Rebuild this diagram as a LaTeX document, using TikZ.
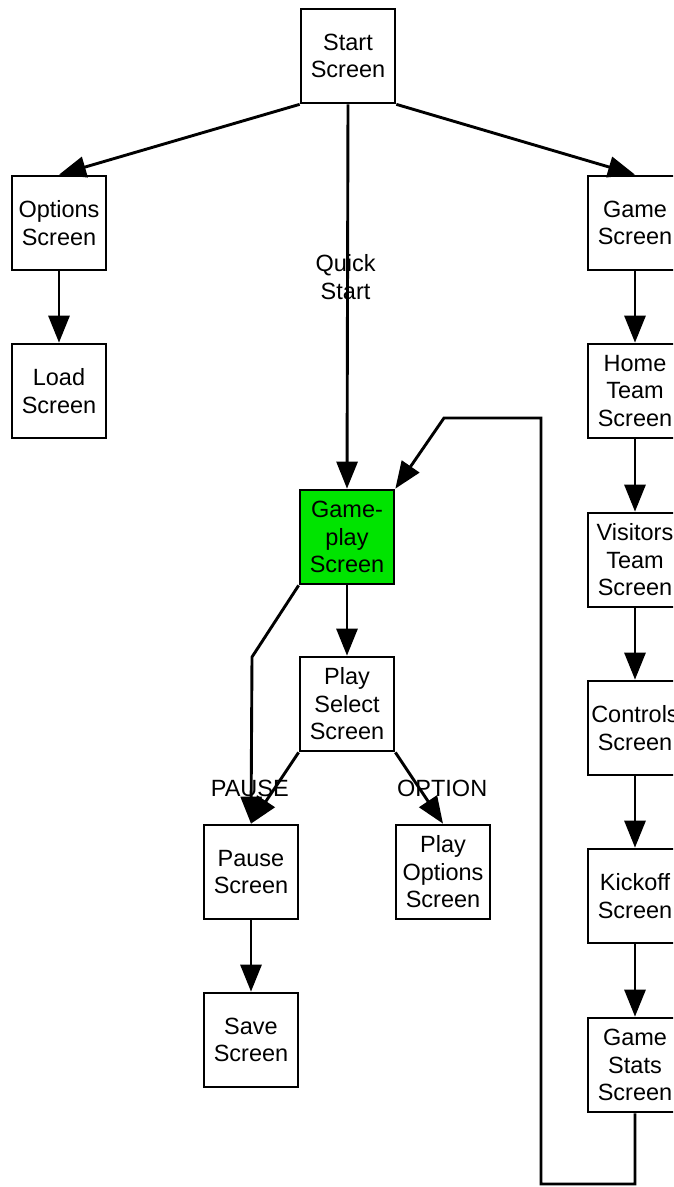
\documentclass[tikz,border=0pt]{standalone}
\usepackage{fontspec}
\setmainfont{Liberation Sans}
\usetikzlibrary{arrows.meta}
\definecolor{playgreen}{RGB}{0,228,0}
\begin{document}
\begin{tikzpicture}[x=1pt,y=-1pt,
  screen/.style={draw=black, line width=2.7pt, fill=white,
    minimum width=94pt, minimum height=94pt, inner sep=0pt,
    align=center, font=\fontsize{23.5pt}{27.5pt}\selectfont},
  flow/.style={line width=2.9pt, -{Triangle[length=27pt,width=21pt]}},
  tag/.style={font=\fontsize{23.5pt}{27.5pt}\selectfont, align=center, inner sep=0pt}]
\fill[white] (0,0) rectangle (673,1187);
\clip (0,0) rectangle (673,1187);
\useasboundingbox (0,0) rectangle (673,1187);

% screens
\node[screen] (start) at (348,56)  {Start\\Screen};
\node[screen] (opt)   at (59,223)  {Options\\Screen};
\node[screen] (load)  at (59,391)  {Load\\Screen};
\node[screen] (game)  at (635,223) {Game\\Screen};
\node[screen] (home)  at (635,391) {Home\\Team\\Screen};
\node[screen] (vis)   at (635,560) {Visitors\\Team\\Screen};
\node[screen] (ctrl)  at (635,728) {Controls\\Screen};
\node[screen] (kick)  at (635,896) {Kickoff\\Screen};
\node[screen] (gs)    at (635,1065) {Game\\Stats\\Screen};
\node[screen, fill=playgreen] (gp) at (347,537) {Game-\\play\\Screen};
\node[screen] (ps)    at (347,704) {Play\\Select\\Screen};
\node[screen] (pause) at (251,872) {Pause\\Screen};
\node[screen] (po)    at (443,872) {Play\\Options\\Screen};
\node[screen] (save)  at (251,1040) {Save\\Screen};

% bend points of the routed connectors
\coordinate (gpbend) at (252,657);
\coordinate (loopA) at (635,1184);
\coordinate (loopB) at (541,1184);
\coordinate (loopC) at (541,418);
\coordinate (loopD) at (444,418);

% connectors
\draw[flow] (start.south west) -- (opt.north);
\draw[flow] (start.south east) -- (game.north);
\draw[flow] (start.south) -- node[tag, pos=0.45, xshift=-2pt] {Quick\\Start} (gp.north);
\draw[flow] (opt) -- (load);
\draw[flow] (game) -- (home);
\draw[flow] (home) -- (vis);
\draw[flow] (vis) -- (ctrl);
\draw[flow] (ctrl) -- (kick);
\draw[flow] (kick) -- (gs);
\draw[flow] (gp) -- (ps);
\draw[flow] (gp.south west) -- (gpbend) -- (pause.north);
\draw[flow] (ps.south west) -- node[tag, pos=0.5, xshift=-25pt] {PAUSE} (pause.north);
\draw[flow] (ps.south east) -- node[tag, pos=0.5, xshift=23pt] {OPTION} (po.north);
\draw[flow] (pause) -- (save);
\draw[flow, line join=miter] (gs.south) -- (loopA) -- (loopB) -- (loopC) -- (loopD) -- (gp.north east);
\end{tikzpicture}
\end{document}
